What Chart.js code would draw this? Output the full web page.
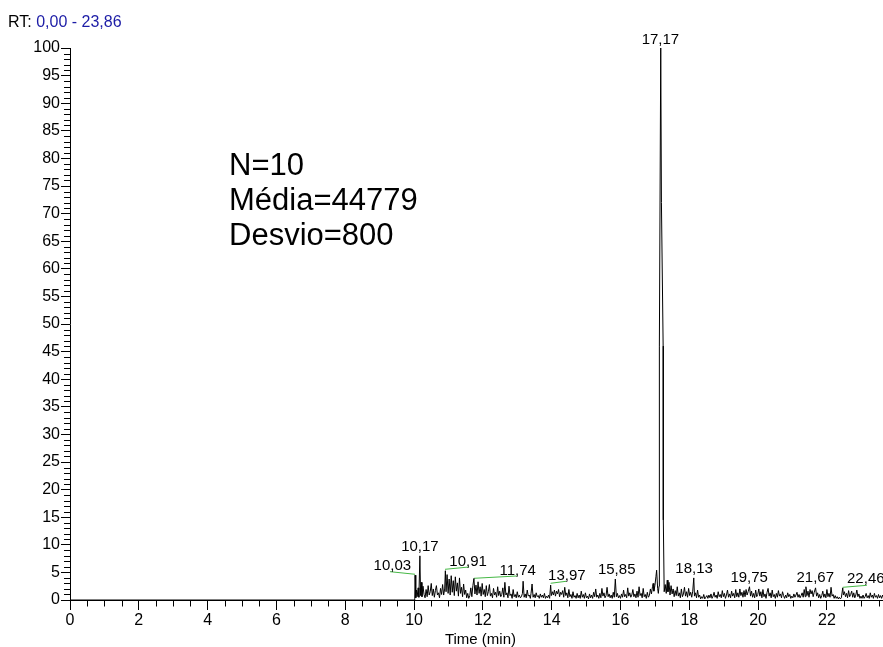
<!DOCTYPE html>
<html>
<head>
<meta charset="utf-8">
<script src="https://cdn.jsdelivr.net/npm/chart.js@4.4.1/dist/chart.umd.min.js"></script>
<style>
  html, body { margin: 0; padding: 0; background: #fff; }
  canvas { display: block; }
</style>
</head>
<body>
<canvas id="cromatograma" width="883" height="647"></canvas>
<script>
// Faixa de tempo de retenção (min)
const RT_INICIO = 0.00;
const RT_FIM = 23.86;
const X_MAX_VISIVEL = 23.63;

// Ticks dos eixos
const xTickPasso = 2;
const xTickMenor = 0.5;
const yTickPasso = 5;
const yTickMenor = 1;

// Sinal (tempo, abundância relativa %)
const sinalInicio = [
  [0.00, 0], [10.00, 0], [10.02, 0.2], [10.03, 4.5], [10.05, 0.4], [10.07, 1.8], [10.09, 0.6],
  [10.12, 2.2], [10.14, 0.5], [10.17, 8.0], [10.19, 0.8], [10.21, 3.2], [10.23, 0.6], [10.26, 2.5],
  [10.29, 1.0], [10.32, 0.4], [10.35, 1.9], [10.38, 0.6], [10.41, 2.6], [10.44, 0.9], [10.47, 1.5],
  [10.50, 3.0], [10.53, 0.8], [10.56, 2.0], [10.59, 0.5], [10.62, 1.7], [10.65, 2.6], [10.68, 0.9],
  [10.71, 1.3], [10.74, 0.4], [10.77, 2.1], [10.80, 1.0], [10.83, 2.8], [10.86, 0.9], [10.89, 2.0],
  [10.91, 5.3], [10.93, 1.5], [10.96, 4.6], [10.99, 1.2], [11.02, 3.8], [11.05, 0.9], [11.08, 4.4],
  [11.11, 1.4], [11.14, 3.5], [11.17, 0.8], [11.20, 4.2], [11.23, 1.6], [11.26, 3.1], [11.29, 0.7],
  [11.32, 4.0], [11.35, 1.2], [11.38, 2.3], [11.41, 0.6], [11.44, 2.9], [11.47, 1.0], [11.50, 1.8],
  [11.53, 0.4], [11.56, 1.2], [11.59, 0.3], [11.62, 0.8], [11.65, 2.2], [11.68, 0.6], [11.71, 2.6],
  [11.74, 3.9], [11.77, 1.1], [11.80, 2.7], [11.83, 0.9], [11.86, 3.3], [11.89, 1.2], [11.92, 2.4],
  [11.95, 0.7], [11.98, 3.0], [12.01, 1.0], [12.04, 1.9], [12.07, 0.6], [12.10, 2.6], [12.13, 0.8],
  [12.16, 1.5], [12.19, 2.8], [12.22, 0.7], [12.25, 1.2], [12.28, 0.4], [12.31, 2.1], [12.34, 0.9],
  [12.37, 1.4], [12.40, 0.5], [12.43, 2.4], [12.46, 0.8], [12.49, 1.6], [12.52, 0.6], [12.55, 1.0],
  [12.58, 2.2], [12.61, 0.5], [12.64, 3.2], [12.67, 0.9], [12.70, 1.3], [12.73, 0.4], [12.76, 2.5],
  [12.79, 0.8], [12.82, 1.1], [12.85, 0.3], [12.88, 1.9], [12.91, 0.6], [12.94, 1.0], [12.97, 0.4]
];

const sinalMeio = [
  [13.00, 1.5], [13.03, 0.5], [13.06, 0.9], [13.09, 0.4], [13.12, 0.6], [13.15, 1.2], [13.17, 3.4],
  [13.20, 0.5], [13.23, 1.1], [13.26, 0.4], [13.29, 1.8], [13.32, 0.7], [13.35, 0.9], [13.38, 0.3],
  [13.40, 1.2], [13.43, 2.9], [13.46, 0.5], [13.49, 1.0], [13.52, 0.4], [13.55, 1.3], [13.58, 0.6],
  [13.61, 0.8], [13.64, 0.3], [13.67, 1.1], [13.70, 0.5], [13.73, 0.9], [13.76, 0.4], [13.79, 1.2],
  [13.82, 0.3], [13.85, 0.7], [13.88, 0.4], [13.91, 0.9], [13.94, 0.3], [13.97, 2.7], [13.99, 0.8],
  [14.02, 1.5], [14.05, 0.9], [14.08, 1.8], [14.11, 0.7], [14.14, 1.6], [14.17, 1.1], [14.20, 1.9],
  [14.23, 0.6], [14.26, 1.4], [14.29, 1.0], [14.32, 1.7], [14.35, 0.5], [14.38, 2.3], [14.41, 0.8],
  [14.44, 1.3], [14.47, 0.4], [14.50, 1.9], [14.53, 0.6], [14.56, 1.0], [14.59, 0.3], [14.62, 1.5],
  [14.65, 0.5], [14.68, 0.8], [14.71, 0.3], [14.74, 1.2], [14.77, 0.4], [14.80, 0.9], [14.83, 0.3],
  [14.86, 1.6], [14.89, 0.5], [14.92, 1.0], [14.95, 0.3], [14.98, 1.3], [15.01, 0.4], [15.04, 0.7],
  [15.07, 0.2], [15.10, 1.1], [15.13, 0.4], [15.16, 0.9], [15.19, 0.3], [15.22, 1.4], [15.25, 0.6],
  [15.28, 2.0], [15.31, 0.5], [15.34, 0.9], [15.37, 0.3], [15.40, 1.2], [15.43, 0.4], [15.46, 2.1],
  [15.49, 0.7], [15.52, 1.3], [15.55, 0.4], [15.58, 0.8], [15.61, 2.3], [15.64, 0.6], [15.67, 1.1],
  [15.70, 0.4], [15.73, 0.9], [15.76, 0.3], [15.79, 1.4], [15.82, 0.5], [15.85, 3.8], [15.88, 0.6],
  [15.91, 1.2], [15.94, 0.4], [15.97, 0.8], [16.00, 0.3], [16.03, 1.1], [16.06, 0.5], [16.09, 1.8],
  [16.12, 0.6], [16.15, 1.0], [16.18, 0.4], [16.21, 2.2], [16.24, 0.7], [16.27, 1.3], [16.30, 0.5],
  [16.33, 0.9], [16.36, 1.9], [16.39, 0.6], [16.42, 1.1], [16.45, 0.4], [16.48, 1.6], [16.51, 0.5],
  [16.54, 2.4], [16.57, 0.8], [16.60, 1.2], [16.63, 0.4], [16.66, 2.1], [16.69, 0.6], [16.72, 1.0],
  [16.75, 0.3], [16.78, 1.4], [16.81, 0.5], [16.84, 0.8], [16.87, 2.0], [16.90, 1.1], [16.93, 2.4],
  [16.95, 3.0], [16.97, 1.6], [17.00, 2.6], [17.03, 4.2], [17.05, 5.4], [17.08, 2.1], [17.10, 1.2]
];

// Pico principal
const sinalPico = [
  [17.12, 2.5], [17.13, 46], [17.17, 100], [17.19, 72], [17.24, 46], [17.245, 14.5], [17.27, 1.5]
];

const sinalFim = [
  [17.30, 2.8], [17.33, 1.2], [17.36, 3.6], [17.38, 1.5], [17.41, 3.2], [17.44, 0.9], [17.47, 2.6],
  [17.50, 1.1], [17.53, 2.0], [17.56, 0.6], [17.59, 1.7], [17.62, 0.8], [17.65, 2.4], [17.68, 0.7],
  [17.71, 1.3], [17.74, 0.4], [17.77, 2.0], [17.80, 0.6], [17.83, 1.1], [17.86, 2.3], [17.89, 0.7],
  [17.92, 1.5], [17.95, 0.5], [17.98, 2.1], [18.01, 0.8], [18.04, 1.4], [18.07, 0.5], [18.10, 1.6],
  [18.13, 4.0], [18.15, 0.7], [18.18, 1.3], [18.21, 0.4], [18.24, 1.8], [18.27, 0.5], [18.30, 0.9],
  [18.33, 0.2], [18.36, 0.6], [18.39, 0.3], [18.42, 1.0], [18.45, 0.2], [18.48, 0.5], [18.51, 0.8],
  [18.54, 0.3], [18.57, 0.9], [18.60, 0.4], [18.63, 1.1], [18.66, 0.3], [18.69, 0.7], [18.72, 1.4],
  [18.75, 0.5], [18.78, 0.9], [18.81, 0.3], [18.84, 1.5], [18.87, 0.6], [18.90, 1.0], [18.93, 0.4],
  [18.96, 1.7], [18.99, 0.6], [19.02, 1.2], [19.05, 0.3], [19.08, 0.9], [19.11, 1.8], [19.14, 0.5],
  [19.17, 1.1], [19.20, 0.4], [19.23, 1.6], [19.26, 0.7], [19.29, 1.2], [19.32, 0.4], [19.35, 1.9],
  [19.38, 0.6], [19.41, 1.3], [19.44, 0.5], [19.47, 2.0], [19.50, 0.8], [19.53, 1.4], [19.56, 0.5],
  [19.59, 1.7], [19.62, 0.6], [19.65, 1.9], [19.68, 0.9], [19.71, 1.5], [19.75, 2.4], [19.78, 0.7],
  [19.81, 1.6], [19.84, 0.5], [19.87, 1.2], [19.90, 0.4], [19.93, 1.8], [19.96, 0.6], [19.99, 1.0],
  [20.02, 2.0], [20.05, 0.7], [20.08, 1.5], [20.11, 0.4], [20.14, 1.9], [20.17, 0.6], [20.20, 1.1],
  [20.23, 0.3], [20.26, 1.4], [20.29, 2.1], [20.32, 0.7], [20.35, 1.3], [20.38, 0.4], [20.41, 1.8],
  [20.44, 0.6], [20.47, 1.0], [20.50, 0.3], [20.53, 1.2], [20.56, 0.5], [20.59, 1.7], [20.62, 0.7],
  [20.65, 1.1], [20.68, 0.4], [20.71, 1.5], [20.74, 0.8], [20.77, 0.3], [20.80, 0.9], [20.83, 0.4],
  [20.86, 1.3], [20.89, 0.6], [20.92, 1.0], [20.95, 0.3], [20.98, 0.7], [21.01, 0.4], [21.04, 1.1],
  [21.07, 0.5], [21.10, 0.9], [21.13, 1.4], [21.16, 0.5], [21.19, 1.0], [21.22, 0.4], [21.25, 0.8],
  [21.28, 1.3], [21.31, 0.5], [21.34, 1.9], [21.37, 0.6], [21.39, 2.4], [21.42, 0.8], [21.45, 1.6],
  [21.48, 0.5], [21.51, 1.9], [21.54, 1.1], [21.57, 1.7], [21.60, 0.6], [21.63, 1.4], [21.67, 2.2],
  [21.70, 0.7], [21.73, 1.3], [21.76, 0.4], [21.79, 1.0], [21.82, 0.3], [21.85, 0.8], [21.88, 1.6],
  [21.91, 0.5], [21.94, 1.1], [21.97, 0.4], [22.00, 1.9], [22.03, 0.6], [22.06, 1.2], [22.09, 0.5],
  [22.12, 2.3], [22.15, 0.7], [22.18, 1.0], [22.21, 0.3], [22.24, 0.8], [22.27, 0.3], [22.30, 0.6],
  [22.33, 0.2], [22.36, 0.5], [22.39, 0.2], [22.42, 0.4], [22.46, 2.2], [22.48, 0.9], [22.51, 1.5],
  [22.54, 0.6], [22.57, 1.2], [22.60, 0.4], [22.63, 1.7], [22.66, 0.6], [22.69, 1.0], [22.72, 1.6],
  [22.75, 0.5], [22.78, 1.3], [22.81, 0.4], [22.84, 0.9], [22.87, 1.8], [22.90, 0.6], [22.93, 1.1],
  [22.96, 0.3], [22.99, 0.7], [23.02, 0.3], [23.05, 0.9], [23.08, 0.3], [23.11, 0.6], [23.14, 1.2],
  [23.17, 0.4], [23.20, 0.8], [23.23, 0.3], [23.26, 1.3], [23.29, 0.5], [23.32, 0.9], [23.35, 0.3],
  [23.38, 1.2], [23.41, 0.5], [23.44, 0.8], [23.47, 0.3], [23.50, 1.0], [23.53, 0.4], [23.56, 0.8],
  [23.59, 0.3], [23.62, 0.9], [23.65, 0.4], [23.68, 1.1]
];

// Picos identificados: tempo do pico e posição do rótulo (tempo, nível)
const picoTempos = [10.03, 10.17, 10.91, 11.74, 13.97, 15.85, 17.17, 18.13, 19.75, 21.67, 22.46];
const rotuloTempos = [9.37, 10.17, 11.57, 13.01, 14.44, 15.89, 17.16, 18.14, 19.74, 21.66, 23.13];
const rotuloNiveis = [5.4, 8.9, 6.1, 4.6, 3.6, 4.8, 100.7, 4.9, 3.3, 3.3, 3.1];

// Linhas de base (verde) de integração
const baseInicio = [[9.30, 5.13], [10.90, 5.56], [11.74, 3.93], [13.97, 3.03], [22.46, 2.30]];
const baseFim = [[10.03, 4.66], [11.60, 5.98], [12.99, 4.35], [14.42, 3.39], [23.16, 2.66]];

// Estatísticas
const estatisticas = ['N=10', 'Média=44779', 'Desvio=800'];

const FONTE = "'Liberation Sans', Arial, Helvetica, sans-serif";

function formatarTempo(t) {
    return t.toFixed(2).replace('.', ',');
}

const toPoint = p => ({ x: p[0], y: p[1] });
const sinal = [...sinalInicio, ...sinalMeio, ...sinalPico, ...sinalFim].map(toPoint);

const datasetsBase = baseInicio.map((ini, i) => ({
    data: [toPoint(ini), toPoint(baseFim[i])],
    borderColor: '#45b845',
    borderWidth: 1,
    pointRadius: 0,
    tension: 0
}));

// Ticks menores, rótulos de pico, textos e título do eixo
const extras = {
    id: 'extras',
    afterDraw(chart) {
        const { ctx, chartArea, scales } = chart;
        const xs = scales.x, ys = scales.y;
        ctx.save();
        ctx.strokeStyle = '#000';
        ctx.lineWidth = 1;
        ctx.beginPath();
        for (let t = 0; t <= X_MAX_VISIVEL + 1e-6; t += xTickMenor) {
            if (Math.abs(t / xTickPasso - Math.round(t / xTickPasso)) < 1e-6) continue;
            const px = Math.round(xs.getPixelForValue(t)) + 0.5;
            ctx.moveTo(px, chartArea.bottom);
            ctx.lineTo(px, chartArea.bottom + 6.5);
        }
        for (let v = 0; v <= 100; v += yTickMenor) {
            if (v % yTickPasso === 0) continue;
            const py = Math.round(ys.getPixelForValue(v)) + 0.5;
            ctx.moveTo(chartArea.left - 6, py);
            ctx.lineTo(chartArea.left, py);
        }
        ctx.stroke();

        // rótulos dos picos
        ctx.fillStyle = '#000';
        ctx.font = '15px ' + FONTE;
        ctx.textAlign = 'center';
        ctx.textBaseline = 'alphabetic';
        picoTempos.forEach((t, i) => {
            ctx.fillText(formatarTempo(t),
                xs.getPixelForValue(rotuloTempos[i]),
                ys.getPixelForValue(rotuloNiveis[i]));
        });

        // título do eixo x
        ctx.fillText('Time (min)', xs.getPixelForValue((RT_INICIO + RT_FIM) / 2), 644);

        // faixa de RT
        ctx.font = '16px ' + FONTE;
        ctx.textAlign = 'left';
        ctx.fillText('RT:', 8, 27);
        const w = ctx.measureText('RT: ').width;
        ctx.fillStyle = '#1c1ca6';
        ctx.fillText(formatarTempo(RT_INICIO) + ' - ' + formatarTempo(RT_FIM), 8 + w, 27);

        // estatísticas
        ctx.fillStyle = '#000';
        ctx.font = '31px ' + FONTE;
        estatisticas.forEach((s, i) => ctx.fillText(s, 229, 175 + i * 35));
        ctx.restore();
    }
};

new Chart(document.getElementById('cromatograma'), {
    type: 'line',
    data: {
        datasets: [{
            data: sinal,
            borderColor: '#000',
            borderWidth: 1,
            pointRadius: 0,
            tension: 0
        }, ...datasetsBase]
    },
    options: {
        responsive: false,
        animation: false,
        devicePixelRatio: 1,
        layout: { padding: { top: 48, left: 0, right: 0, bottom: 0 } },
        plugins: {
            legend: { display: false },
            tooltip: { enabled: false }
        },
        scales: {
            x: {
                type: 'linear',
                min: RT_INICIO,
                max: X_MAX_VISIVEL,
                afterFit: s => { s.height = 47; },
                border: { color: '#000', width: 1 },
                grid: { drawOnChartArea: false, tickLength: 10, tickColor: '#000' },
                ticks: {
                    stepSize: xTickPasso,
                    includeBounds: false,
                    autoSkip: false,
                    maxRotation: 0,
                    padding: 1,
                    color: '#000',
                    font: { family: FONTE, size: 16 }
                }
            },
            y: {
                min: 0,
                max: 100,
                afterFit: s => { s.width = 70; },
                border: { color: '#000', width: 1 },
                grid: { drawOnChartArea: false, tickLength: 9, tickColor: '#000' },
                ticks: {
                    stepSize: yTickPasso,
                    autoSkip: false,
                    padding: 1,
                    color: '#000',
                    font: { family: FONTE, size: 16 }
                }
            }
        }
    },
    plugins: [extras]
});
</script>
</body>
</html>
